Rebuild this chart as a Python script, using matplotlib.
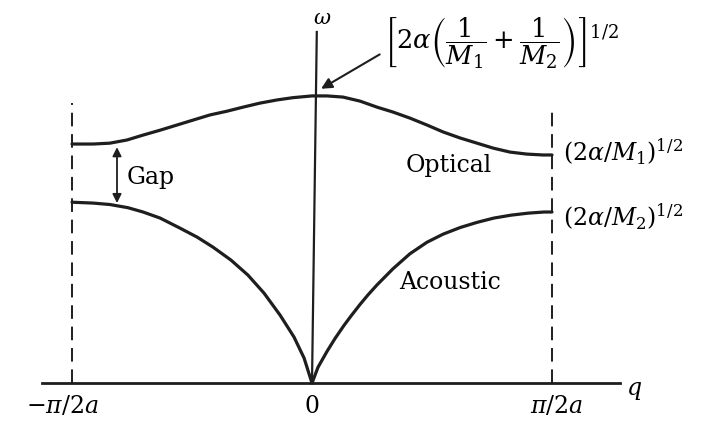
import matplotlib
matplotlib.use("Agg")
import matplotlib.pyplot as plt

plt.rcParams["mathtext.fontset"] = "dejavuserif"
plt.rcParams["font.family"] = "DejaVu Serif"

# q in units of pi/2a, omega in units of the optical maximum
opt_q = [-1.0, -0.9125, -0.842, -0.771, -0.704, -0.633, -0.5625, -0.496, -0.425, -0.354,
         -0.2875, -0.217, -0.146, -0.079, 0.0, 0.0625, 0.129, 0.2, 0.271, 0.3375,
         0.408, 0.479, 0.546, 0.617, 0.6875, 0.754, 0.825, 0.896, 0.9625, 1.0]
opt_w = [0.830, 0.830, 0.833, 0.844, 0.861, 0.878, 0.896, 0.913, 0.931, 0.944,
         0.958, 0.972, 0.983, 0.991, 0.997, 0.997, 0.993, 0.979, 0.958, 0.941,
         0.920, 0.896, 0.872, 0.851, 0.833, 0.816, 0.802, 0.795, 0.792, 0.792]

ac_q = [-1.0, -0.9125, -0.842, -0.767, -0.704, -0.633, -0.55, -0.479, -0.4125, -0.3375,
        -0.267, -0.2, -0.133, -0.075, -0.033, 0.0,
        0.025, 0.0625, 0.096, 0.133, 0.1625, 0.2, 0.233, 0.271, 0.3375, 0.408,
        0.479, 0.546, 0.617, 0.6875, 0.758, 0.829, 0.9, 0.967, 1.0]
ac_w = [0.628, 0.625, 0.620, 0.609, 0.594, 0.573, 0.538, 0.507, 0.472, 0.427,
        0.375, 0.3125, 0.236, 0.160, 0.087, 0.0,
        0.055, 0.110, 0.155, 0.200, 0.233, 0.273, 0.306, 0.341, 0.397, 0.449,
        0.489, 0.517, 0.540, 0.558, 0.573, 0.583, 0.590, 0.594, 0.594]

zone_edges = [-1.0, 1.0]
tick_labels = [r"$-\pi/2a$", r"$0$", r"$\pi/2a$"]
tick_pos = [-1.04, 0.0, 1.02]

fig = plt.figure(figsize=(7.05, 4.22), dpi=100)
ax = fig.add_axes([0, 0, 1, 1])
ax.set_xlim(-1.3, 1.6375)
ax.set_ylim(-0.135, 1.33)
ax.axis("off")

ink = "#1e1e1e"

# axes
ax.plot([-1.125, 1.283], [0, 0], color=ink, lw=2.0)
ax.plot([0, 0.02], [0, 1.219], color=ink, lw=1.6)

# zone boundaries
for qe, top in zip(zone_edges, [0.972, 0.948]):
    ax.plot([qe, qe], [0, top], color=ink, lw=1.4, dashes=(7, 4))

# branches
ax.plot(opt_q, opt_w, color=ink, lw=2.3, solid_joinstyle="round", solid_capstyle="round")
ax.plot(ac_q, ac_w, color=ink, lw=2.3, solid_joinstyle="round", solid_capstyle="round")

# labels
ax.text(0.042, 1.267, r"$\omega$", fontsize=15, ha="center", va="center")
ax.text(0.30, 1.18,
        r"$\left[2\alpha\left(\dfrac{1}{M_1}+\dfrac{1}{M_2}\right)\right]^{1/2}$",
        fontsize=18.5, ha="left", va="center")
ax.annotate("", xy=(0.028, 1.017), xytext=(0.292, 1.146),
            arrowprops=dict(arrowstyle="-|>", color=ink, lw=1.5, mutation_scale=16))
ax.annotate("", xy=(-0.8125, 0.819), xytext=(-0.8125, 0.625),
            arrowprops=dict(arrowstyle="<|-|>", color=ink, lw=1.3, mutation_scale=13,
                            shrinkA=0, shrinkB=0))
ax.text(-0.671, 0.715, "Gap", fontsize=17, ha="center", va="center")
ax.text(0.571, 0.757, "Optical", fontsize=17, ha="center", va="center")
ax.text(0.575, 0.351, "Acoustic", fontsize=17, ha="center", va="center")
ax.text(1.046, 0.802, r"$(2\alpha/M_1)^{1/2}$", fontsize=17, ha="left", va="center")
ax.text(1.046, 0.576, r"$(2\alpha/M_2)^{1/2}$", fontsize=17, ha="left", va="center")

for pos, lab in zip(tick_pos, tick_labels):
    ax.text(pos, -0.08, lab, fontsize=17, ha="center", va="center")
ax.text(1.342, -0.024, r"$q$", fontsize=17, ha="center", va="center")

fig.savefig("out.png", dpi=100)
